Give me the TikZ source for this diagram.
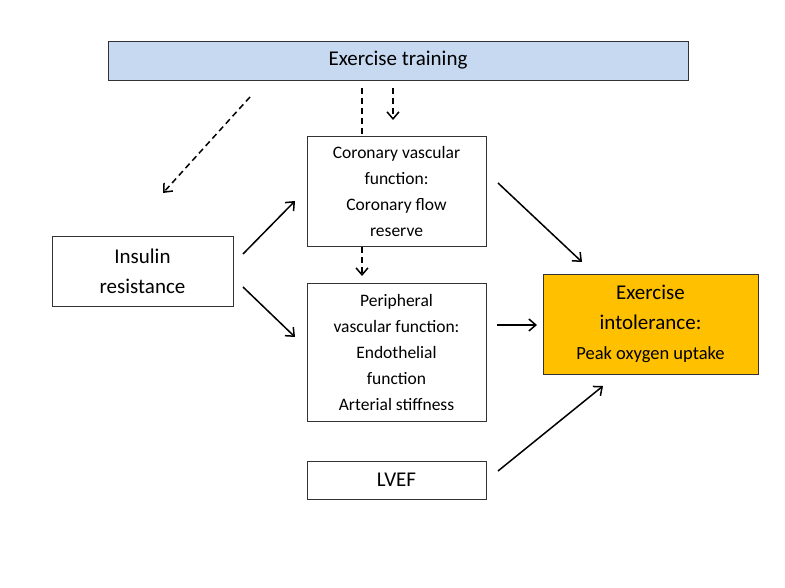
\documentclass[tikz,border=0pt]{standalone}
\usepackage{fontspec}
\setmainfont{Carlito}
\usetikzlibrary{arrows.meta}
\begin{document}
\begin{tikzpicture}[x=1pt,y=-1pt,
 box/.style={draw=black!80,line width=0.8pt,align=center,inner sep=0pt},
 arr/.style={line width=1.5pt,-{Straight Barb[length=7pt,width=12pt]}},
 darr/.style={arr,dash pattern=on 6pt off 4pt},
 dline/.style={line width=1.5pt,dash pattern=on 6pt off 4pt}]
\useasboundingbox (0,0) rectangle (785,588);
\node[box,fill={rgb,255:red,198;green,217;blue,241},minimum width=580pt,minimum height=39pt,font=\fontsize{21}{25}\selectfont] (ex) at (398,60.5) {Exercise training};
\node[box,minimum width=181pt,minimum height=70pt,font=\fontsize{21}{30}\selectfont] (ins) at (142.5,271) {Insulin\\resistance};
\node[box,minimum width=179pt,minimum height=110pt,font=\fontsize{17.5}{26}\selectfont] (cor) at (396.5,191) {Coronary vascular\\function:\\Coronary flow\\reserve};
\node[box,minimum width=179pt,minimum height=138pt,font=\fontsize{17.5}{26}\selectfont] (per) at (396.5,352) {Peripheral\\vascular function:\\Endothelial\\function\\Arterial stiffness};
\node[box,minimum width=179pt,minimum height=38pt,font=\fontsize{21}{25}\selectfont] (lv) at (396.5,480) {LVEF};
\node[box,fill={rgb,255:red,255;green,192;blue,0},minimum width=215pt,minimum height=100pt,font=\fontsize{21}{30}\selectfont] (int) at (650.5,324) {Exercise\\intolerance:\\{\fontsize{18.5}{26}\selectfont Peak oxygen uptake}};
\coordinate (a1) at (250,97); \coordinate (a2) at (163,193);
\draw[darr] (a1) -- (a2);
\draw[dline] (362,88) -- (cor.north -| 362,0);
\draw[darr] (393,88) -- (393,120);
\draw[darr] (cor.south -| 362,0) ++(0,1) -- (362,276);
\draw[arr] (243,254) -- (295,201);
\draw[arr] (243,287) -- (295,337);
\draw[arr] (498,183) -- (582,262);
\draw[arr] (497,325) -- (537,325);
\draw[arr] (498,471) -- (603,386);
\end{tikzpicture}
\end{document}
